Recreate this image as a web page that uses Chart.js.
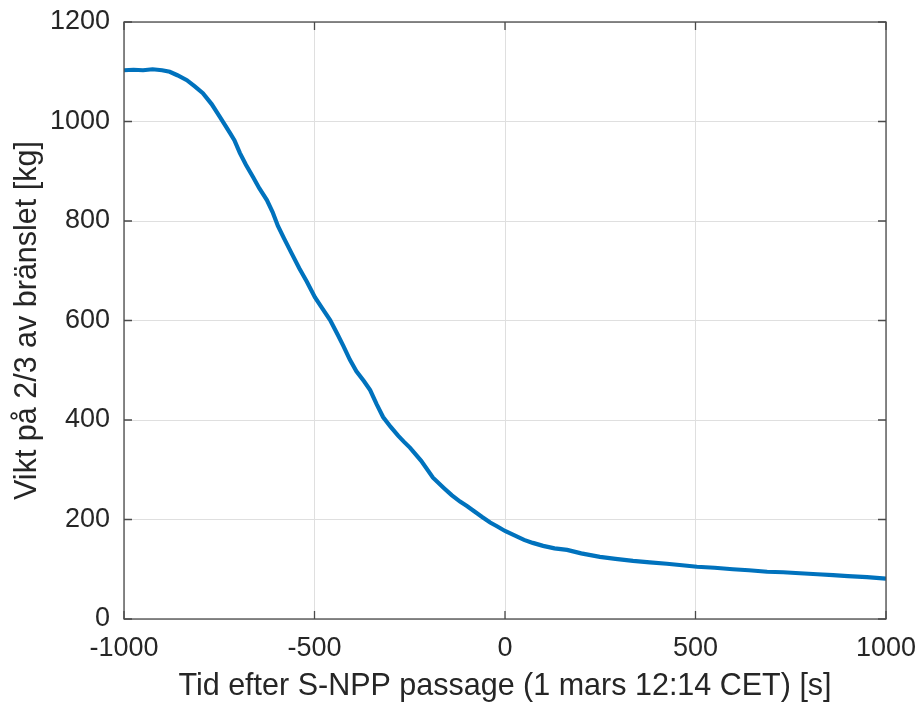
<!DOCTYPE html>
<html>
<head>
<meta charset="utf-8">
<script src="https://cdn.jsdelivr.net/npm/chart.js@4"></script>
<style>
  body { margin: 0; background: #fff; }
</style>
</head>
<body>
<canvas id="chart" width="920" height="707"></canvas>
<script>
'use strict';

// time after the S-NPP pass [s]
let timeSeconds = [
  -1000, -975, -950, -925, -900, -880, -860, -835, -815, -793,
  -770, -748, -722, -710, -696, -680, -661, -645, -625, -610,
  -596, -580, -560, -540, -520, -499, -480, -459, -440, -425,
  -407, -390, -370, -354, -337, -320, -300, -280, -265, -249,
  -220, -189, -160, -140, -118, -100, -80, -60, -39, -20,
  0, 25, 50, 73, 100, 130, 163, 200, 249, 290,
  336, 380, 425, 465, 504, 550, 598, 640, 688, 730,
  774, 820, 861, 900, 950, 1000
];
// weight of 2/3 of the fuel [kg]
let fuelMassKg = [
  1103, 1104, 1103, 1105, 1103, 1100, 1093, 1083, 1071, 1057,
  1035, 1009, 977, 962, 937, 913, 888, 866, 842, 818,
  790, 765, 735, 705, 678, 647, 625, 601, 573, 550,
  521, 498, 478, 460, 432, 406, 386, 368, 356, 344,
  318, 284, 263, 249, 236, 227, 216, 205, 194, 186,
  177, 168, 159, 153, 147, 142, 139, 132, 125, 121,
  117, 114, 111, 108, 105, 103, 100, 98, 95, 94,
  92, 90, 88, 86, 84, 81
];

let xTickValues = [-1000, -500, 0, 500, 1000];
let yTickValues = [0, 200, 400, 600, 800, 1000, 1200];

let points = [];
for (let i = 0; i < timeSeconds.length; i++) {
  points.push({ x: timeSeconds[i], y: fuelMassKg[i] });
}

let textColor = '#262626';
let fontFamily = '"Liberation Sans", Arial, sans-serif';

// box around the axes with inward ticks, like the original plot
const boxPlugin = {
  id: 'box',
  afterDraw(chart) {
    const ctx = chart.ctx;
    const a = chart.chartArea;
    const xs = chart.scales.x;
    const ys = chart.scales.y;
    const len = 8;
    ctx.save();
    ctx.strokeStyle = '#4a4a4a';
    ctx.lineWidth = 1.3;
    ctx.strokeRect(a.left, a.top, a.right - a.left, a.bottom - a.top);
    ctx.beginPath();
    xTickValues.forEach(v => {
      const px = xs.getPixelForValue(v);
      ctx.moveTo(px, a.bottom); ctx.lineTo(px, a.bottom - len);
      ctx.moveTo(px, a.top); ctx.lineTo(px, a.top + len);
    });
    yTickValues.forEach(v => {
      const py = ys.getPixelForValue(v);
      ctx.moveTo(a.left, py); ctx.lineTo(a.left + len, py);
      ctx.moveTo(a.right, py); ctx.lineTo(a.right - len, py);
    });
    ctx.stroke();
    ctx.restore();
  }
};

let canvasElem = document.getElementById('chart');

const myChart = new Chart(canvasElem, {
  type: 'line',
  data: {
    datasets: [{
      label: 'Vikt',
      data: points,
      borderColor: '#0072BD',
      borderWidth: 4.2,
      pointRadius: 0,
      tension: 0,
      fill: false
    }]
  },
  options: {
    responsive: false,
    animation: false,
    layout: {
      padding: { left: 0, top: 22, right: 34, bottom: 0 }
    },
    plugins: {
      legend: { display: false },
      tooltip: { enabled: false }
    },
    scales: {
      x: {
        type: 'linear',
        min: -1000,
        max: 1000,
        afterBuildTicks: scale => { scale.ticks = xTickValues.map(v => ({ value: v })); },
        afterFit: scale => {
          scale.height = 88;
          scale.paddingLeft = 0;
          scale.paddingRight = 0;
        },
        grid: { color: '#dfdfdf', lineWidth: 1, drawTicks: false },
        border: { display: false },
        ticks: {
          padding: 13,
          maxRotation: 0,
          color: textColor,
          font: { family: fontFamily, size: 27 },
          callback: v => String(v)
        },
        title: {
          display: true,
          text: 'Tid efter S-NPP passage (1 mars 12:14 CET) [s]',
          color: textColor,
          font: { family: fontFamily, size: 30.5 },
          padding: { top: 0, bottom: 2 }
        }
      },
      y: {
        type: 'linear',
        min: 0,
        max: 1200,
        afterBuildTicks: scale => { scale.ticks = yTickValues.map(v => ({ value: v })); },
        afterFit: scale => {
          scale.width = 124;
          scale.paddingTop = 0;
          scale.paddingBottom = 0;
        },
        grid: { color: '#dfdfdf', lineWidth: 1, drawTicks: false },
        border: { display: false },
        ticks: {
          padding: 14,
          color: textColor,
          font: { family: fontFamily, size: 27 },
          callback: v => String(v)
        },
        title: {
          display: true,
          text: 'Vikt på 2/3 av bränslet [kg]',
          color: textColor,
          font: { family: fontFamily, size: 30.5 },
          padding: { top: 9, bottom: 0 }
        }
      }
    }
  },
  plugins: [boxPlugin]
});
</script>
</body>
</html>
